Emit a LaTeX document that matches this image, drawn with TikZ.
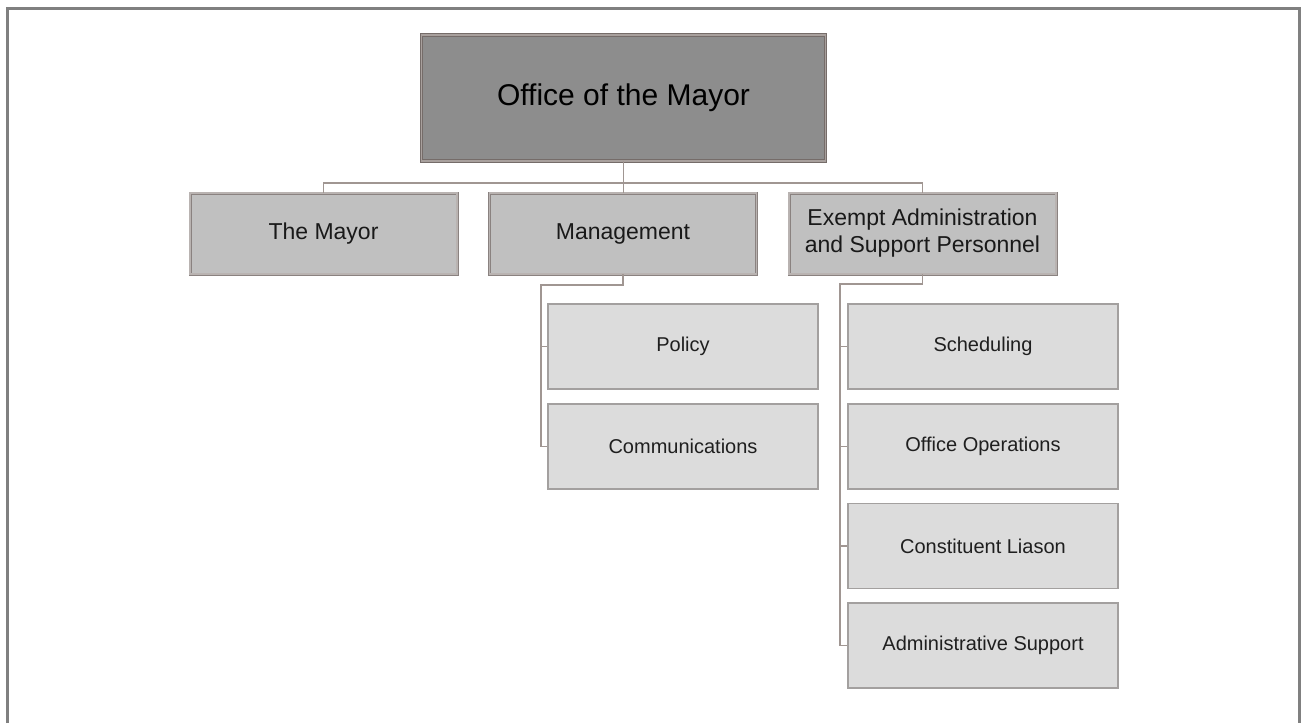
\documentclass[tikz,border=0pt]{standalone}
\usepackage{fontspec}
\setmainfont{Liberation Sans}
\begin{document}
\definecolor{framegray}{HTML}{808080}
\definecolor{topfill}{HTML}{8D8D8D}
\definecolor{midfill}{HTML}{C0C0C0}
\definecolor{leaffill}{HTML}{DCDCDC}
\definecolor{edgebrown}{HTML}{756C69}
\definecolor{edgelight}{HTML}{A8A09D}
\definecolor{leafedge}{HTML}{A3A09F}
\definecolor{linkcol}{HTML}{A09692}
\begin{tikzpicture}[x=1pt,y=-1pt,
  topbox/.style={rectangle, fill=topfill, draw=edgebrown, line width=0.9pt,
    double=edgelight, double distance=1.6pt,
    minimum width=404pt, minimum height=126pt, inner sep=0pt,
    font=\fontsize{30}{35}\selectfont, text=black},
  midbox/.style={rectangle, fill=midfill, draw=edgebrown!85, line width=0.8pt,
    double=edgelight!80, double distance=1.4pt,
    minimum width=267pt, minimum height=81pt, inner sep=0pt,
    align=center, font=\fontsize{23}{27}\selectfont, text=black!90},
  leafbox/.style={rectangle, fill=leaffill, draw=leafedge, line width=1.2pt,
    minimum width=270pt, minimum height=85pt, inner sep=0pt,
    font=\fontsize{20}{24}\selectfont, text=black!88},
  link/.style={draw=linkcol, line width=1.5pt}]

\useasboundingbox (0,0) rectangle (1301,723);

% page frame (open at the bottom)
\draw[framegray, line width=2.2pt] (7.5,723) -- (7.5,8.5) -- (1299.5,8.5) -- (1299.5,723);

% top level
\node[topbox] (office) at (623.5,98) {Office of the Mayor};

% second level
\node[midbox] (mayor) at (323.5,233.5) {The Mayor};
\node[midbox] (mgmt) at (623,233.5) {Management};
\node[midbox] (exempt) at (922.5,233.5) {Exempt Administration\\and Support Personnel};

% third level under Management
\node[leafbox] (policy) at (683,346.5) {Policy};
\node[leafbox] (comms) at (683,446.5) {Communications};

% third level under Exempt Administration
\node[leafbox] (sched) at (983,346.5) {Scheduling};
\node[leafbox] (ops) at (983,446.5) {Office Operations};
\node[leafbox] (liason) at (983,546) {Constituent Liason};
\node[leafbox] (admin) at (983,645.5) {Administrative Support};

% connectors
\coordinate (bus) at (623.5,183);
\coordinate (mj) at (541,285);
\coordinate (ej) at (840,284);

\draw[link] (office.south) -- (bus);
\draw[link] (mayor.north) |- (bus) -| (exempt.north);
\draw[link] (bus) -- (mgmt.north -| bus);

\draw[link] (mgmt.south) |- (mj) |- (comms.west);
\draw[link] (mj |- policy.west) -- (policy.west);

\draw[link] (exempt.south) |- (ej) |- (admin.west);
\draw[link] (ej |- sched.west) -- (sched.west);
\draw[link] (ej |- ops.west) -- (ops.west);
\draw[link] (ej |- liason.west) -- (liason.west);
\end{tikzpicture}
\end{document}
